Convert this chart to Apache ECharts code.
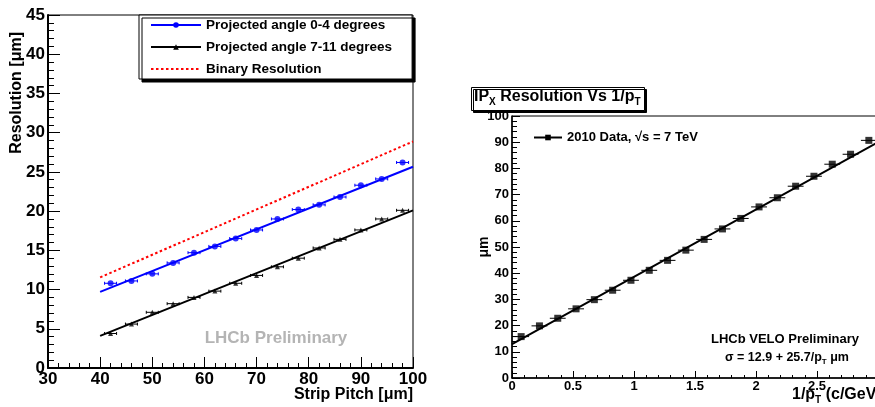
<!DOCTYPE html>
<html><head><meta charset="utf-8">
<script src="https://cdn.jsdelivr.net/npm/echarts@6/dist/echarts.min.js"></script>
<style>html,body{margin:0;padding:0;background:#fff}#c{width:875px;height:407px}</style>
</head><body><div id="c"></div>
<script>
// ---- Left panel data ----
const pitch = [42,46,50,54,58,62,66,70,74,78,82,86,90,94,98];
const resLow = [10.8,11.1,12.0,13.4,14.7,15.5,16.5,17.6,19.0,20.2,20.8,21.8,23.3,24.1,26.2];
const resHigh = [4.4,5.6,7.1,8.2,9.0,9.8,10.8,11.8,12.9,14.0,15.3,16.4,17.6,19.0,20.1];
const pitchErr = 1.15;
const fitLow = [[40,9.7],[100,25.65]];
const fitHigh = [[40,4.1],[100,20.1]];
const binaryRes = [[40,11.55],[100,28.87]];
const seriesNames = ['Projected angle 0-4 degrees','Projected angle 7-11 degrees','Binary Resolution'];
// ---- Right panel data ----
const invPt = [0.075,0.225,0.375,0.525,0.675,0.825,0.975,1.125,1.275,1.425,1.575,1.725,1.875,2.025,2.175,2.325,2.475,2.625,2.775,2.925];
const ipRes = [15.8,19.9,22.8,26.4,29.9,33.5,37.3,41.1,44.9,48.8,52.9,56.9,60.9,65.3,68.8,73.2,77.0,81.6,85.4,90.7];
const invPtErr = 0.065;
const ipFit = [[0,12.9],[3,90.0]];
const dataName = '2010 Data, \u221As = 7 TeV';

const FONT = 'Liberation Sans, Arial, sans-serif';
const chart = echarts.init(document.getElementById('c'), null, {renderer:'canvas'});

function errBars(xs, ys, err, color, cap, axis) {
  return {
    type:'custom', xAxisIndex:axis, yAxisIndex:axis, silent:true, z:2,
    data: xs.map((x,i)=>[x, ys[i], err]),
    renderItem(params, api) {
      const x = api.value(0), y = api.value(1), e = api.value(2);
      const p1 = api.coord([x-e, y]), p2 = api.coord([x+e, y]);
      const st = {stroke:color, lineWidth:1};
      const ch = [{type:'line', shape:{x1:p1[0],y1:p1[1],x2:p2[0],y2:p2[1]}, style:st}];
      if (cap) {
        ch.push({type:'line', shape:{x1:p1[0],y1:p1[1]-1.5,x2:p1[0],y2:p1[1]+1.5}, style:st});
        ch.push({type:'line', shape:{x1:p2[0],y1:p2[1]-1.5,x2:p2[0],y2:p2[1]+1.5}, style:st});
      }
      return {type:'group', children:ch};
    }
  };
}

function axisCommon(fs, majLen, minLen, lw, margin) {
  return {
    axisLine:{show:true, onZero:false, lineStyle:{color:'#000', width:lw}},
    axisTick:{show:true, inside:true, length:majLen, lineStyle:{color:'#000', width:1}},
    minorTick:{show:true, splitNumber:5, length:minLen, lineStyle:{color:'#000', width:1}},
    splitLine:{show:false},
    axisLabel:{color:'#000', fontSize:fs, fontWeight:'bold', fontFamily:FONT, margin:margin, showMinLabel:true, showMaxLabel:true, hideOverlap:false}
  };
}
function sub(fs, lh){ return {fontSize:fs, fontWeight:'bold', fontFamily:FONT, color:'#000', fill:'#000', verticalAlign:'bottom', lineHeight:lh}; }
function main(fs, lh){ return {fontSize:fs, fontWeight:'bold', fontFamily:FONT, color:'#000', fill:'#000', lineHeight:lh}; }

const option = {
  animation:false,
  backgroundColor:'#fff',
  title:{
    text:'{a|IP}{s|X}{a| Resolution Vs 1/p}{s|T}',
    left:471, top:85, padding:[2,4,4,3],
    borderColor:'#000', borderWidth:1, backgroundColor:'#fff',
    shadowColor:'#000', shadowOffsetX:2, shadowOffsetY:2, shadowBlur:0,
    textStyle:{rich:{ a:main(16,20), s:sub(10,8) }}
  },
  grid:[
    {left:48, top:15, width:365, height:353, show:true, borderColor:'#000', borderWidth:1, outerBoundsMode:'none'},
    {left:512, top:116, width:366, height:262, show:true, borderColor:'#000', borderWidth:1, outerBoundsMode:'none'}
  ],
  xAxis:[
    Object.assign({type:'value', gridIndex:0, min:30, max:100, interval:10}, axisCommon(17, 11, 5, 2, 3)),
    Object.assign({type:'value', gridIndex:1, min:0, max:3, interval:0.5}, axisCommon(13, 7, 3, 1.5, 2))
  ],
  yAxis:[
    Object.assign({type:'value', gridIndex:0, min:0, max:45, interval:5}, axisCommon(17, 12, 6, 2, 3)),
    Object.assign({type:'value', gridIndex:1, min:0, max:100, interval:10}, axisCommon(13, 8, 5, 1.5, 3))
  ],
  legend:[
    {
      orient:'vertical', left:139, top:15, selectedMode:false,
      data:seriesNames,
      itemWidth:50, itemHeight:7, itemGap:8,
      padding:[3,20,3,11],
      backgroundColor:'#fff', borderColor:'#000', borderWidth:1,
      shadowColor:'#000', shadowOffsetX:3, shadowOffsetY:3, shadowBlur:0,
      textStyle:{fontSize:13.5, fontWeight:'bold', fontFamily:FONT, color:'#000'}
    },
    {
      orient:'vertical', left:533, top:131, selectedMode:false,
      data:[dataName], itemWidth:28, itemHeight:7, padding:0,
      textStyle:{fontSize:13, fontWeight:'bold', fontFamily:FONT, color:'#000'}
    }
  ],
  series:[
    {name:seriesNames[0], type:'line', xAxisIndex:0, yAxisIndex:0, data:fitLow, symbol:'circle', symbolSize:6, showSymbol:false,
      lineStyle:{color:'#0000ff', width:2}, itemStyle:{color:'#0000ff'}, silent:true, z:3},
    errBars(pitch, resLow, pitchErr, '#0000ff', true, 0),
    {name:seriesNames[0], type:'scatter', xAxisIndex:0, yAxisIndex:0, data:pitch.map((x,i)=>[x,resLow[i]]),
      symbol:'circle', symbolSize:6, itemStyle:{color:'#0000ff'}, silent:true, z:4},
    {name:seriesNames[1], type:'line', xAxisIndex:0, yAxisIndex:0, data:fitHigh, symbol:'triangle', symbolSize:5, showSymbol:false,
      lineStyle:{color:'#000', width:2}, itemStyle:{color:'#000'}, silent:true, z:3},
    errBars(pitch, resHigh, pitchErr, '#000', true, 0),
    {name:seriesNames[1], type:'scatter', xAxisIndex:0, yAxisIndex:0, data:pitch.map((x,i)=>[x,resHigh[i]]),
      symbol:'triangle', symbolSize:5, itemStyle:{color:'#000'}, silent:true, z:4},
    {name:seriesNames[2], type:'line', xAxisIndex:0, yAxisIndex:0, data:binaryRes, symbol:'none',
      lineStyle:{color:'#ff0000', width:2, type:[2.5,2.5]}, itemStyle:{color:'rgba(0,0,0,0)', borderWidth:0}, silent:true, z:3},
    {name:dataName, type:'line', xAxisIndex:1, yAxisIndex:1, data:ipFit, symbol:'rect', symbolSize:7, showSymbol:false,
      lineStyle:{color:'#000', width:2}, itemStyle:{color:'#000'}, silent:true, z:3},
    errBars(invPt, ipRes, invPtErr, '#000', false, 1),
    {name:dataName, type:'scatter', xAxisIndex:1, yAxisIndex:1, data:invPt.map((x,i)=>[x,ipRes[i]]),
      symbol:'rect', symbolSize:7, itemStyle:{color:'#000'}, silent:true, z:4}
  ],
  graphic:[
    {type:'text', x:413, y:395, style:{text:'Strip Pitch [\u03BCm]', fontSize:16, fontWeight:'bold', fontFamily:FONT, fill:'#000', align:'right', verticalAlign:'middle'}},
    {type:'text', x:17, y:32, rotation:Math.PI/2, style:{text:'Resolution [\u03BCm]', fontSize:16, fontWeight:'bold', fontFamily:FONT, fill:'#000', align:'right', verticalAlign:'middle'}},
    {type:'text', x:276, y:338, style:{text:'LHCb Preliminary', fontSize:17, fontWeight:'bold', fontFamily:FONT, fill:'#b4b4b4', align:'center', verticalAlign:'middle'}},
    {type:'text', x:484, y:247, rotation:Math.PI/2, style:{text:'\u03BCm', fontSize:14, fontWeight:'bold', fontFamily:FONT, fill:'#000', align:'center', verticalAlign:'middle'}},
    {type:'text', x:792, y:395, style:{text:'{a|1/p}{s|T}{a| (c/GeV)}', align:'left', verticalAlign:'middle',
      rich:{a:main(16,20), s:sub(10,8)}}},
    {type:'text', x:785, y:339, style:{text:'LHCb VELO Preliminary', fontSize:13, fontWeight:'bold', fontFamily:FONT, fill:'#000', align:'center', verticalAlign:'middle'}},
    {type:'text', x:787, y:358, style:{text:'{a|\u03C3 = 12.9 + 25.7/p}{s|T}{a| \u03BCm}', align:'center', verticalAlign:'middle',
      rich:{a:main(12.5,16), s:sub(8,6)}}}
  ]
};
chart.setOption(option);
</script></body></html>
